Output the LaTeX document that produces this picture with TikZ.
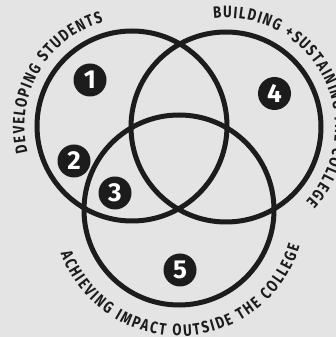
\documentclass[tikz,border=0pt]{standalone}
\usepackage{fontspec}
\setmainfont{Fira Sans}
\newfontfamily\capfont{Fira Sans}[FakeStretch=0.8]
\usetikzlibrary{decorations.text}
\definecolor{bg}{HTML}{E4E4E4}
\definecolor{ink}{HTML}{1C1C1C}
\begin{document}
\begin{tikzpicture}[x=1pt,y=1pt,
  ring/.style={draw=ink, line width=5pt},
  badge/.style={circle, fill=ink, text=white, minimum size=33pt, inner sep=0pt,
    font=\fontsize{26}{26}\selectfont\bfseries},
  curvetext/.style={decorate, decoration={text along path, text align=fit to path,
    text={|\capfont\fontsize{16.5}{16.5}\selectfont\bfseries\color{ink}|#1}}}
]
% page and background
\fill[bg] (0,0) rectangle (336,337);
\useasboundingbox (0,0) rectangle (336,337);

% centres of the three rings
\coordinate (cl) at (132,211);
\coordinate (cr) at (226,210);
\coordinate (cb) at (179,127);

\draw[ring] (cl) circle[radius=95];
\draw[ring] (cr) circle[radius=95];
\draw[ring] (cb) circle[radius=95];

% start points of the curved captions
\coordinate (tl) at ([shift={(194:107.5)}]cl);
\coordinate (tr) at ([shift={(96.5:109)}]cr);
\coordinate (tb) at ([shift={(200:126)}]cb);

\path[curvetext={DEVELOPING STUDENTS}] (tl) arc[start angle=194, end angle=105.5, radius=107.5];
\path[curvetext={BUILDING +SUSTAINING THE COLLEGE}] (tr) arc[start angle=96.5, end angle=-43, radius=109];
\path[curvetext={ACHIEVING IMPACT OUTSIDE THE COLLEGE}] (tb) arc[start angle=200, end angle=343.5, radius=126];

% numbered badges
\node[badge] (n1) at (90,257) {1};
\node[badge] (n2) at (74,176) {2};
\node[badge] (n3) at (115,144) {3};
\node[badge] (n4) at (274.5,243.5) {4};
\node[badge] (n5) at (180,67) {5};
\end{tikzpicture}
\end{document}
